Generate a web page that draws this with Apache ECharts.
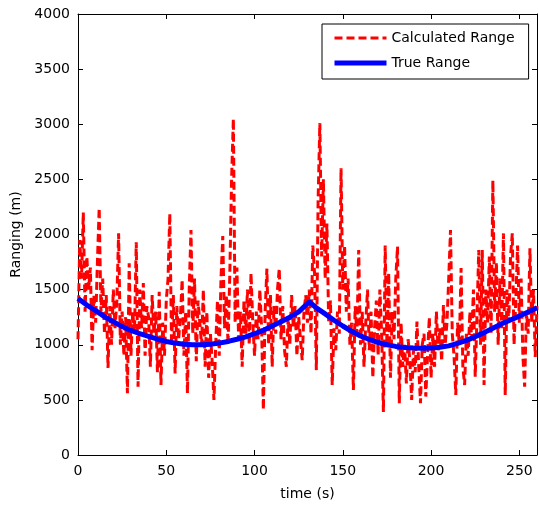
<!DOCTYPE html>
<html>
<head>
<meta charset="utf-8">
<script src="https://cdn.jsdelivr.net/npm/echarts@6/dist/echarts.min.js"></script>
<style>
html,body{margin:0;padding:0;background:#fff;}
#chart{width:539px;height:508px;}
</style>
</head>
<body>
<div id="chart"></div>
<script>
// Calculated range, one sample per second (t = 0..260)
const calcTime = [];
for (let i = 0; i <= 260; i++) calcTime.push(i);
const calcRange = [
  1050,1950,1600,2200,1300,1800,1500,1700,950,1450,
  1200,1750,2240,1300,1600,1100,1450,790,1350,1000,
  1500,1150,1400,2010,1000,1300,900,1250,560,1740,
  900,1300,1100,1930,620,1500,1150,1560,900,1350,
  1250,800,1450,1100,1300,750,1480,635,1200,900,
  1400,1600,2190,1000,1450,740,1350,1050,1250,1590,
  900,1300,560,1500,2040,1100,1600,850,1400,1200,
  1000,1500,800,1300,700,1100,850,500,1000,1400,
  900,1600,1985,1150,1450,1000,1650,2500,3050,1200,
  1700,1050,1300,800,1400,1100,1500,1000,1650,1200,
  900,1300,1050,1500,1150,410,1300,1690,1000,1450,
  800,1350,1100,1500,1690,1050,1350,950,800,1250,
  1000,1450,1150,1350,900,1250,1050,860,1300,1450,
  1200,1500,1100,1900,1650,770,2300,3010,1800,2500,
  1600,2100,1200,1400,635,1150,950,1300,1100,2600,
  1500,1900,1300,1600,1000,1200,590,1350,1100,1860,
  1000,1300,800,1200,1500,950,1300,700,1150,1400,
  900,1500,1100,390,1900,1000,1650,700,1300,1050,
  1600,1890,470,1200,800,1000,650,1050,850,500,
  950,750,1210,800,470,1000,1100,530,900,1250,
  700,1100,800,1300,950,1150,850,1360,1000,1200,
  1600,2040,1100,900,545,1200,1000,1695,800,635,
  1100,900,1300,1050,1500,710,1250,1860,1000,1860,
  635,1500,1200,1800,1100,2490,1300,1750,1000,1600,
  1150,2010,545,1500,1200,1800,2010,1000,1400,1900,
  1200,1600,900,620,1300,1100,1875,1200,1500,890,1350
];
// True range
const trueTime = [0,5,10,15,20,25,30,35,40,45,50,55,60,65,70,75,80,85,90,95,100,105,110,115,120,125,131,135,140,145,150,155,160,165,170,175,180,185,190,195,200,205,210,215,220,225,230,235,240,245,250,255,260];
const trueRange = [1420,1360,1310,1255,1210,1165,1130,1100,1075,1050,1030,1015,1005,1000,1000,1005,1015,1030,1050,1072,1100,1132,1170,1208,1250,1298,1390,1335,1280,1222,1170,1122,1080,1048,1020,1000,985,975,970,968,970,978,990,1012,1040,1072,1110,1150,1190,1225,1260,1298,1335];
const xTicks = [0,50,100,150,200,250];
const yTicks = [0,500,1000,1500,2000,2500,3000,3500,4000];

const font = "'DejaVu Sans', sans-serif";
const chart = echarts.init(document.getElementById('chart'), null, {renderer:'canvas'});
const axisBase = {
  axisLine:{show:true, onZero:false, lineStyle:{color:'#000', width:1}},
  splitLine:{show:false}
};
chart.setOption({
  animation:false,
  backgroundColor:'#fff',
  grid:{left:78, right:2, top:14, bottom:53},
  legend:{
    orient:'vertical', left:322, top:24,
    padding:[7,14,9,10], itemGap:11, itemWidth:52, itemHeight:16,
    borderColor:'#000', borderWidth:1, backgroundColor:'#fff',
    itemStyle:{opacity:0},
    textStyle:{fontFamily:font, fontSize:14, color:'#000'},
    data:[
      {name:'Calculated Range', lineStyle:{width:3, type:[8,4], color:'#ff0000'}},
      {name:'True Range', lineStyle:{width:5, color:'#0000ff'}}
    ]
  },
  xAxis:[
    Object.assign({type:'value', min:0, max:260, position:'bottom',
      name:'time (s)', nameLocation:'middle', nameGap:32,
      nameTextStyle:{fontFamily:font, fontSize:14, color:'#000'},
      axisTick:{inside:true, length:5, customValues:xTicks, lineStyle:{color:'#000'}},
      axisLabel:{customValues:xTicks, fontFamily:font, fontSize:14, color:'#000', margin:9}}, axisBase),
    Object.assign({type:'value', min:0, max:260, position:'top',
      axisTick:{inside:true, length:5, customValues:xTicks, lineStyle:{color:'#000'}},
      axisLabel:{show:false}}, axisBase)
  ],
  yAxis:[
    Object.assign({type:'value', min:0, max:4000, interval:500, position:'left',
      name:'Ranging (m)', nameLocation:'middle', nameGap:45, nameRotate:90,
      nameTextStyle:{fontFamily:font, fontSize:14, color:'#000'},
      axisTick:{inside:true, length:5, customValues:yTicks, lineStyle:{color:'#000'}},
      axisLabel:{customValues:yTicks, formatter:v=>String(v), fontFamily:font, fontSize:14, color:'#000', margin:8}}, axisBase),
    Object.assign({type:'value', min:0, max:4000, interval:500, position:'right',
      axisTick:{inside:true, length:5, customValues:yTicks, lineStyle:{color:'#000'}},
      axisLabel:{show:false}}, axisBase)
  ],
  series:[
    {name:'Calculated Range', type:'line', showSymbol:false, symbol:'none',
     data: calcTime.map((t,i)=>[t, calcRange[i]]),
     lineStyle:{color:'#ff0000', width:3, type:[8,4]}, itemStyle:{color:'#ff0000'}},
    {name:'True Range', type:'line', showSymbol:false, symbol:'none',
     data: trueTime.map((t,i)=>[t, trueRange[i]]),
     lineStyle:{color:'#0000ff', width:5}, itemStyle:{color:'#0000ff'}}
  ]
});
</script>
</body>
</html>
